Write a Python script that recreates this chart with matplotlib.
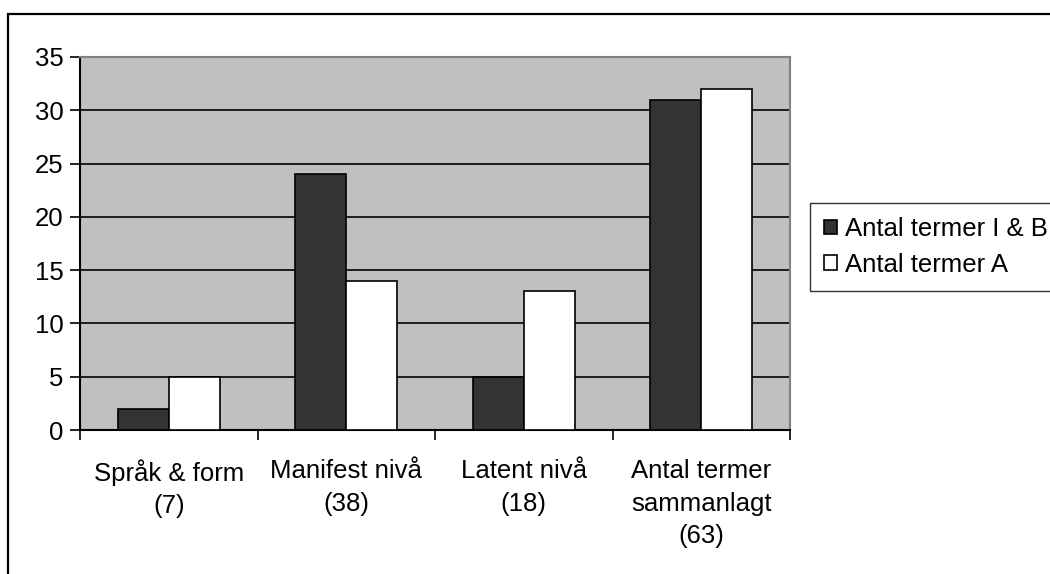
import numpy as np
import matplotlib
matplotlib.use('Agg')
import matplotlib.pyplot as plt
from matplotlib.patches import Rectangle

plt.rcParams['font.family'] = ['Liberation Sans', 'DejaVu Sans']

# data
categories = ['Språk & form\n(7)', 'Manifest nivå\n(38)', 'Latent nivå\n(18)',
              'Antal termer\nsammanlagt\n(63)']
series_names = ['Antal termer I & B', 'Antal termer A']
values_ib = [2, 24, 5, 31]
values_a = [5, 14, 13, 32]

fig = plt.figure(figsize=(10.5, 5.74), dpi=100)
ax = fig.add_axes([80 / 1050, 1 - 430 / 574, 710 / 1050, 373 / 574])

# outer frame round the chart (cut off right and below)
fig.patches.append(Rectangle((8 / 1050, -0.1), 1.2, 1.1 - 14 / 574,
                             transform=fig.transFigure, fill=False,
                             edgecolor='black', linewidth=1.6))

x = np.arange(len(categories))
w = 0.287
ax.set_facecolor('#c0c0c0')
ax.bar(x - w / 2, values_ib, w, color='#333333', edgecolor='black',
       linewidth=1.2, label=series_names[0], zorder=3)
ax.bar(x + w / 2, values_a, w, color='white', edgecolor='black',
       linewidth=1.2, label=series_names[1], zorder=3)

ax.set_xlim(-0.5, 3.5)
ax.set_ylim(0, 35)
ax.set_yticks(range(0, 36, 5))
ax.yaxis.grid(True, color='black', linewidth=1.2, zorder=1)
ax.set_axisbelow(True)

ax.set_xticks(np.arange(-0.5, 4, 1))
ax.set_xticklabels([])
ax.set_xticks(x, minor=True)
ax.set_xticklabels(categories, minor=True, fontsize=18.5, linespacing=1.45)
ax.tick_params(axis='x', which='minor', length=0, pad=21)
ax.tick_params(axis='x', which='major', length=7, width=1.2, direction='out')
ax.tick_params(axis='y', length=7, width=1.2, labelsize=18.5, pad=5)

for s in ['top', 'right']:
    ax.spines[s].set_color('#808080')
    ax.spines[s].set_linewidth(1.5)
for s in ['left', 'bottom']:
    ax.spines[s].set_color('black')
    ax.spines[s].set_linewidth(1.5)

leg = fig.legend(loc='upper left', bbox_to_anchor=(810 / 1050, 1 - 203 / 574),
                 fontsize=18.5, frameon=True, fancybox=False, edgecolor='black',
                 handlelength=0.5, handleheight=0.5, handletextpad=0.3,
                 borderpad=0.55, labelspacing=0.45, borderaxespad=0)
leg.get_frame().set_linewidth(1.0)

fig.savefig('out.png', dpi=100)
